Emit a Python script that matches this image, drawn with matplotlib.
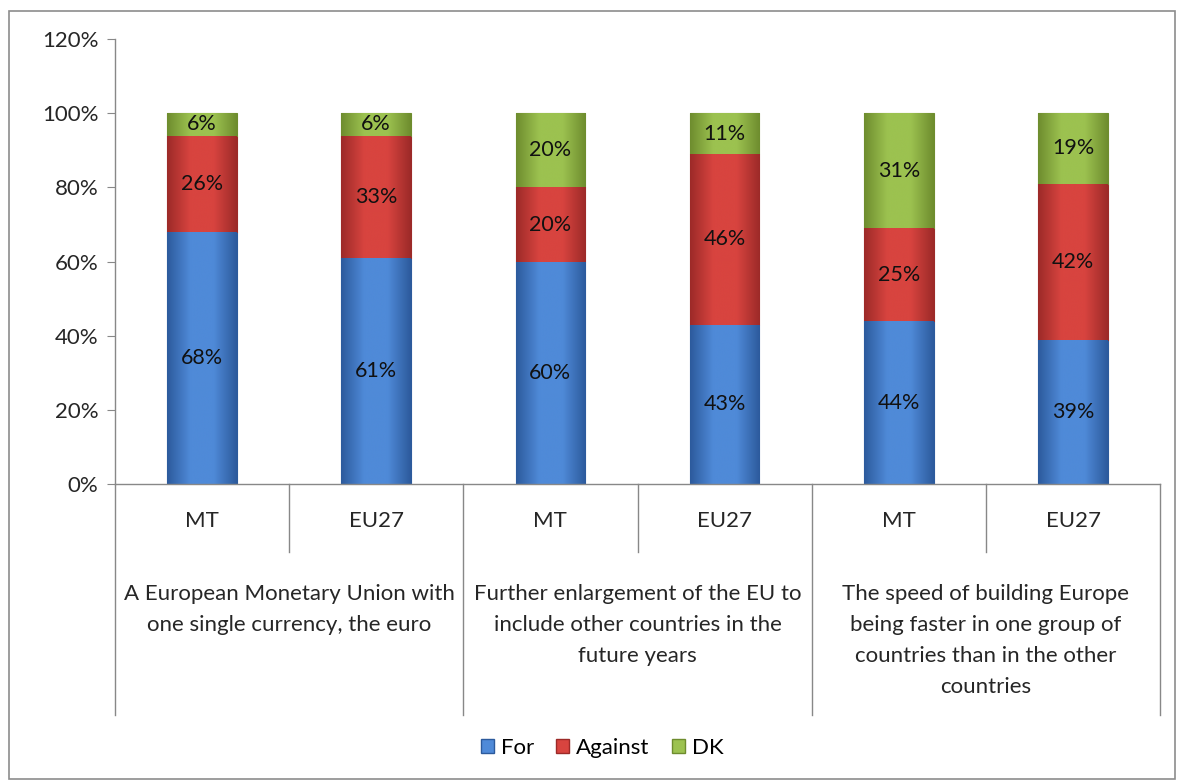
import numpy as np
import matplotlib
matplotlib.use("Agg")
import matplotlib.pyplot as plt
from matplotlib.patches import Patch, Rectangle
from matplotlib.colors import LinearSegmentedColormap

plt.rcParams['font.family'] = ['Lato', 'DejaVu Sans']

countries = ["MT", "EU27", "MT", "EU27", "MT", "EU27"]
groups = ["A European Monetary Union with\none single currency, the euro",
          "Further enlargement of the EU to\ninclude other countries in the\nfuture years",
          "The speed of building Europe\nbeing faster in one group of\ncountries than in the other\ncountries"]
series_names = ["For", "Against", "DK"]
for_vals = [68, 61, 60, 43, 44, 39]
against_vals = [26, 33, 20, 46, 25, 42]
dk_vals = [6, 6, 20, 11, 31, 19]
yticks = [0, 20, 40, 60, 80, 100, 120]

# colours: (edge dark, middle light)
palette = {
    "For": ("#2c5a9c", "#4f8ad8"),
    "Against": ("#9c2a28", "#d8443f"),
    "DK": ("#6e8c2e", "#9cc250"),
}

FS = 16

fig = plt.figure(figsize=(11.85, 7.81), dpi=100)
ax = fig.add_axes([0.097, 0.380, 0.882, 0.570])

x = np.arange(len(countries))
width = 0.40
bottom = np.zeros(len(countries))
for name, vals in zip(series_names, [for_vals, against_vals, dk_vals]):
    dark, light = palette[name]
    cmap = LinearSegmentedColormap.from_list(name, [dark, light, light, dark])
    bars = ax.bar(x, vals, width, bottom=bottom, color=light, edgecolor=dark,
                  linewidth=0.8, zorder=2)
    grad = np.linspace(0, 1, 256).reshape(1, -1)
    for b, v, bt, xi in zip(bars, vals, bottom, x):
        im = ax.imshow(grad, cmap=cmap, aspect='auto',
                       extent=(xi - width / 2, xi + width / 2, bt, bt + v),
                       zorder=2.1, interpolation='bicubic')
        im.set_clip_path(b)
        ax.text(xi, bt + v / 2, f"{v}%", ha='center', va='center',
                fontsize=15.5, color='#111111', zorder=3)
    bottom += np.array(vals)

ax.set_xlim(-0.5, len(countries) - 0.5)
ax.set_ylim(0, 120)
ax.set_yticks(yticks)
ax.set_yticklabels([f"{t}%" for t in yticks], fontsize=FS, color='#262626')
ax.tick_params(axis='y', length=6, color='#888888', pad=6)
ax.set_xticks([])
for s in ['top', 'right']:
    ax.spines[s].set_visible(False)
for s in ['left', 'bottom']:
    ax.spines[s].set_color('#888888')
    ax.spines[s].set_linewidth(1.0)

# multi-level category axis
short_y = -0.153
long_y = -0.519
n = len(countries)
for i in range(n + 1):
    xa = i / n
    yb = long_y if i % 2 == 0 else short_y
    ax.plot([xa, xa], [0, yb], transform=ax.transAxes, color='#888888',
            lw=1.0, clip_on=False)
for i, c in enumerate(countries):
    ax.text((i + 0.5) / n, -0.083, c, transform=ax.transAxes, ha='center',
            va='center', fontsize=FS, color='#262626')
for g, lab in enumerate(groups):
    ax.text((2 * g + 1) / n, -0.224, lab, transform=ax.transAxes, ha='center',
            va='top', fontsize=FS, color='#262626', linespacing=1.68)

# legend
handles = [Patch(facecolor=palette[nm][1], edgecolor=palette[nm][0], label=nm)
           for nm in series_names]
fig.legend(handles=handles, loc='center', bbox_to_anchor=(0.508, 0.042),
           ncol=3, frameon=False, fontsize=FS, handlelength=0.6,
           handleheight=0.6, handletextpad=0.3, columnspacing=1.0)

# outer border
fig.patches.append(Rectangle((9 / 1185, 2 / 781), 1166 / 1185, 768 / 781,
                             transform=fig.transFigure, fill=False,
                             edgecolor='#8c8c8c', lw=1.2))

fig.savefig("out.png", dpi=100)
